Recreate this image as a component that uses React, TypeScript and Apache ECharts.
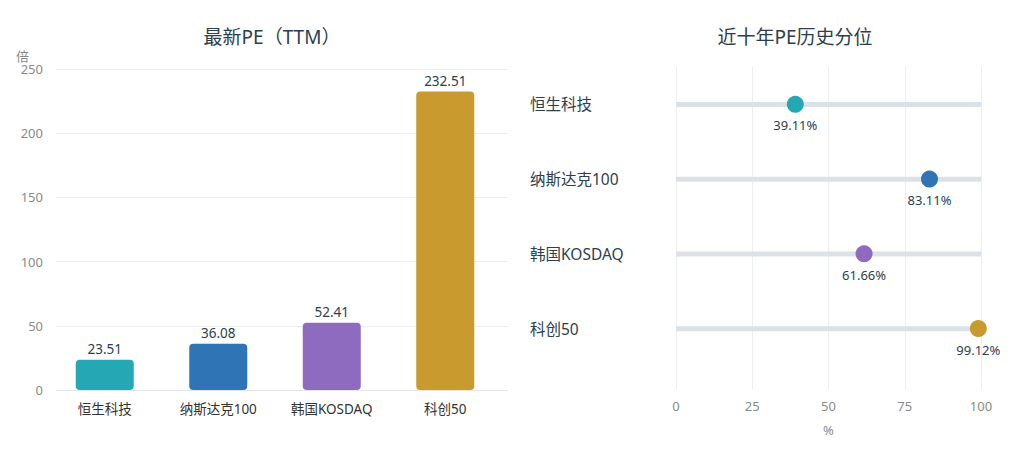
import React, { useEffect, useRef } from "react";
import * as echarts from "echarts";

const categories = ["恒生科技", "纳斯达克100", "韩国KOSDAQ", "科创50"];
const peValues = [23.51, 36.08, 52.41, 232.51];
const percentileValues = [39.11, 83.11, 61.66, 99.12];
const trackValues = [100, 100, 100, 100];
const peAxis = { min: 0, max: 250, interval: 50 };
const pctAxis = { min: 0, max: 100, interval: 25 };
const palette = ["#25a8b3", "#2f74b5", "#8e6bbe", "#c99a2e"];

const FONT = '"Noto Sans", "Noto Sans CJK SC", sans-serif';
const DARK = "#2c3e50";
const GRAY = "#8a8a8a";
const GRID_LINE = "#eceff2";

export default function App() {
  const ref = useRef<HTMLDivElement>(null);
  useEffect(() => {
    document.body.style.margin = "0";
    if (!ref.current) return;
    const chart = echarts.init(ref.current, null, { renderer: "svg" });
    const option: any = {
      animation: false,
      textStyle: { fontFamily: FONT },
      title: [
        {
          text: "最新PE（TTM）",
          left: 267,
          top: 22,
          textAlign: "center",
          textStyle: { fontSize: 19, fontWeight: "normal", color: DARK, fontFamily: FONT },
        },
        {
          text: "近十年PE历史分位",
          left: 790,
          top: 22,
          textAlign: "center",
          textStyle: { fontSize: 19, fontWeight: "normal", color: DARK, fontFamily: FONT },
        },
      ],
      grid: [
        { left: 56, right: 501, top: 69, bottom: 64 },
        { left: 48, right: 507, top: 69, bottom: 64 },
        { left: 676, right: 28, top: 67, bottom: 65 },
        { left: 676, right: 28, top: 67, bottom: 88 },
      ],
      xAxis: [
        {
          gridIndex: 0,
          type: "category",
          data: categories,
          axisLine: { show: true, lineStyle: { color: "#e3e6ea" } },
          axisTick: { show: false },
          axisLabel: { show: false },
        },
        {
          gridIndex: 1,
          type: "category",
          data: categories,
          axisLine: { show: false },
          axisTick: { show: false },
          axisLabel: { color: "#333", fontSize: 13.5, margin: 12, fontFamily: FONT },
        },
        {
          gridIndex: 2,
          type: "value",
          min: pctAxis.min,
          max: pctAxis.max,
          interval: pctAxis.interval,
          name: "%",
          nameLocation: "middle",
          nameGap: 34,
          nameTextStyle: { color: GRAY, fontSize: 13, fontFamily: FONT },
          axisLine: { show: false },
          axisTick: { show: false },
          axisLabel: { color: GRAY, fontSize: 13, margin: 10, fontFamily: FONT },
          splitLine: { show: true, lineStyle: { color: GRID_LINE } },
        },
        {
          gridIndex: 3,
          type: "value",
          min: pctAxis.min,
          max: pctAxis.max,
          show: false,
        },
      ],
      yAxis: [
        {
          gridIndex: 0,
          type: "value",
          min: peAxis.min,
          max: peAxis.max,
          interval: peAxis.interval,
          name: "倍",
          nameLocation: "end",
          nameGap: 2,
          nameTextStyle: {
            color: GRAY,
            fontSize: 13,
            align: "right",
            padding: [0, 27, 0, 0],
            fontFamily: FONT,
          },
          axisLine: { show: false },
          axisTick: { show: false },
          axisLabel: { color: GRAY, fontSize: 13, margin: 13, fontFamily: FONT },
          splitLine: { show: true, lineStyle: { color: GRID_LINE } },
        },
        {
          gridIndex: 1,
          type: "value",
          min: peAxis.min,
          max: peAxis.max,
          show: false,
        },
        {
          gridIndex: 2,
          type: "value",
          min: 0,
          max: 1,
          show: false,
        },
        {
          gridIndex: 3,
          type: "category",
          data: categories,
          inverse: true,
          axisLine: { show: false },
          axisTick: { show: false },
          splitLine: { show: false },
          axisLabel: {
            color: DARK,
            fontSize: 15.5,
            align: "left",
            margin: 146,
            fontFamily: FONT,
          },
        },
      ],
      series: [
        {
          type: "bar",
          xAxisIndex: 1,
          yAxisIndex: 1,
          barWidth: 58,
          data: peValues.map((v, i) => ({
            value: v,
            itemStyle: { color: palette[i], borderRadius: 4 },
          })),
          label: {
            show: true,
            position: "top",
            distance: 4,
            color: DARK,
            fontSize: 13.5,
            fontFamily: FONT,
            formatter: (p: any) => p.value.toFixed(2),
          },
        },
        {
          type: "bar",
          xAxisIndex: 3,
          yAxisIndex: 3,
          barWidth: 5,
          silent: true,
          itemStyle: { color: "#dbe2e7" },
          data: trackValues,
          z: 1,
        },
        {
          type: "scatter",
          xAxisIndex: 3,
          yAxisIndex: 3,
          symbolSize: 17,
          z: 3,
          data: percentileValues.map((v, i) => ({
            value: [v, categories[i]],
            itemStyle: { color: palette[i], opacity: 1 },
          })),
          label: {
            show: true,
            position: "bottom",
            distance: 6,
            color: DARK,
            fontSize: 13,
            fontFamily: FONT,
            formatter: (p: any) => p.value[0].toFixed(2) + "%",
          },
        },
      ],
    };
    chart.setOption(option);
    return () => chart.dispose();
  }, []);
  return <div ref={ref} style={{ width: 1009, height: 454 }} />;
}
